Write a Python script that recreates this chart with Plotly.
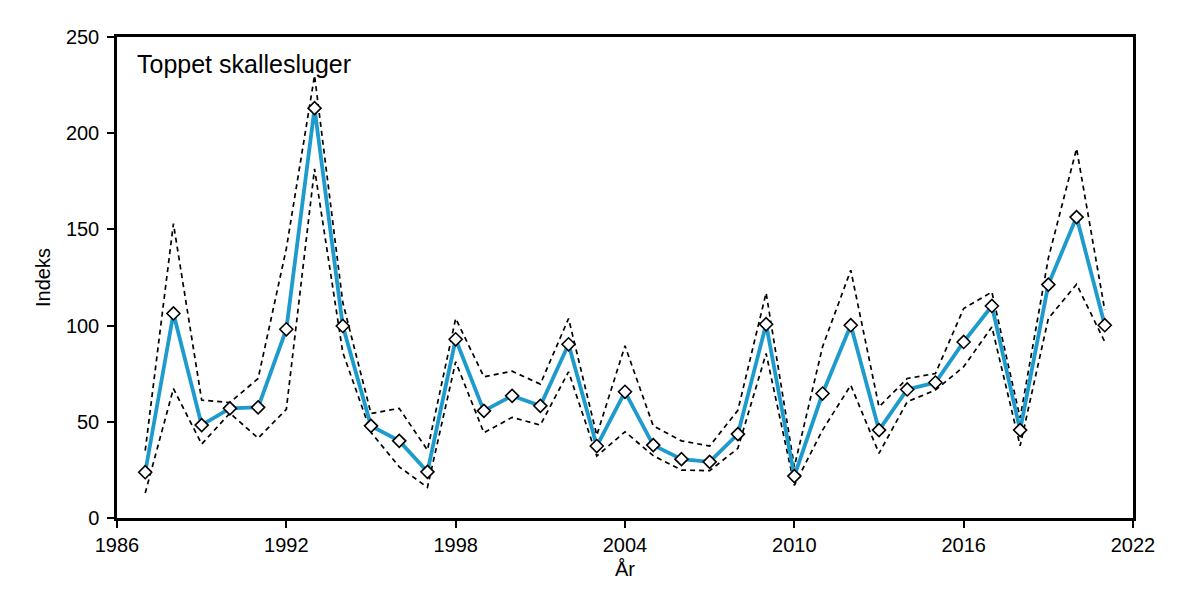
import plotly.graph_objects as go

years = list(range(1987, 2022))
index = [23.8, 106.3, 48.3, 57.0, 57.5, 98.1, 213.0, 99.8, 47.9, 40.1,
         24.0, 92.9, 55.7, 63.5, 58.3, 90.3, 37.4, 65.6, 37.9, 30.6,
         29.2, 43.6, 100.7, 21.8, 64.7, 100.2, 45.7, 66.8, 70.4, 91.5,
         110.2, 45.7, 121.3, 156.4, 100.2]
upper = [35.0, 153.0, 61.3, 60.0, 72.5, 140.0, 230.0, 112.0, 54.3, 57.0,
         35.3, 103.7, 73.4, 76.3, 69.6, 103.7, 43.0, 89.5, 47.9, 40.1,
         37.4, 56.0, 117.0, 26.6, 89.0, 128.8, 57.8, 72.5, 75.1, 108.9,
         117.5, 52.0, 135.0, 192.0, 108.0]
lower = [13.0, 67.3, 38.4, 54.5, 41.5, 56.5, 181.5, 86.0, 44.5, 26.6,
         15.9, 81.2, 44.3, 52.3, 48.3, 76.0, 32.2, 44.8, 32.4, 24.9,
         24.6, 36.2, 85.5, 17.0, 45.7, 69.0, 33.6, 60.4, 66.5, 78.6,
         99.3, 37.5, 103.7, 121.5, 91.5]

x_ticks = [1986, 1992, 1998, 2004, 2010, 2016, 2022]
y_ticks = [0, 50, 100, 150, 200, 250]

FONT = "Liberation Sans, Arial, sans-serif"

fig = go.Figure()
fig.add_trace(go.Scatter(x=years, y=upper, mode="lines",
                         line=dict(color="black", width=1.7, dash="5px,4px"),
                         showlegend=False, hoverinfo="skip"))
fig.add_trace(go.Scatter(x=years, y=lower, mode="lines",
                         line=dict(color="black", width=1.7, dash="5px,4px"),
                         showlegend=False, hoverinfo="skip"))
fig.add_trace(go.Scatter(x=years, y=index, mode="lines+markers",
                         line=dict(color="#1e9bcd", width=3.8),
                         marker=dict(symbol="diamond", size=10, color="white",
                                     line=dict(color="black", width=1.6)),
                         showlegend=False))

fig.add_annotation(x=0.018, y=0.944, xref="paper", yref="paper",
                   text="Toppet skallesluger", showarrow=False,
                   xanchor="left", yanchor="middle",
                   font=dict(family=FONT, size=25, color="black"))

axis_common = dict(showgrid=False, zeroline=False, showline=True,
                   linecolor="black", linewidth=2.5, mirror=True,
                   ticks="outside", ticklen=7, tickwidth=1.5, tickcolor="black",
                   tickfont=dict(family=FONT, size=20, color="black"))

fig.update_xaxes(range=[1986, 2022], tickvals=x_ticks,
                 ticktext=[str(v) for v in x_ticks],
                 title=dict(text="År", font=dict(family=FONT, size=20, color="black"),
                            standoff=8),
                 **axis_common)
fig.update_yaxes(range=[0, 250], tickvals=y_ticks, ticklabelstandoff=4,
                 title=dict(text="Indeks", font=dict(family=FONT, size=20, color="black"),
                            standoff=10),
                 **axis_common)

# page body adds an 8px offset; margins compensate so the plot area sits at
# x 117..1133, y 37..518 in the screenshot
fig.update_layout(width=1200, height=590,
                  margin=dict(l=109, r=75, t=29, b=80),
                  paper_bgcolor="white", plot_bgcolor="white",
                  font=dict(family=FONT, color="black"))

fig.write_html("out.html")
